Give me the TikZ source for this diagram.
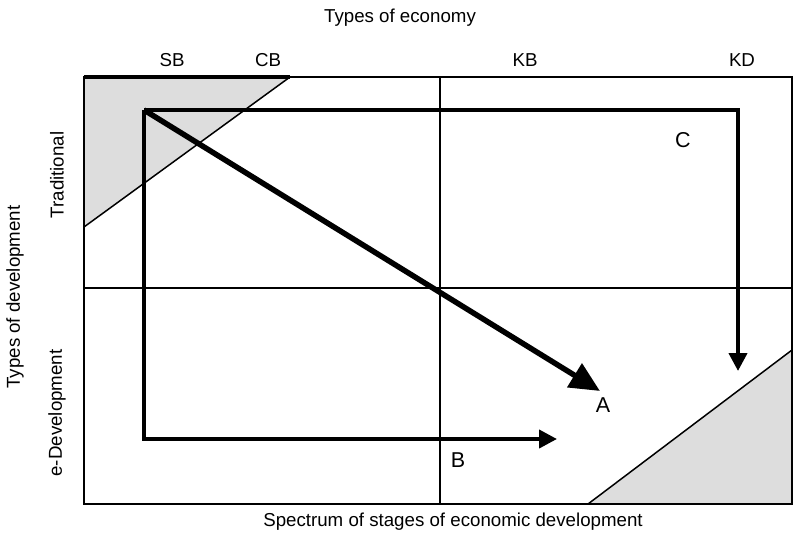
\documentclass[tikz,border=0pt]{standalone}
\usepackage{fontspec}
\setmainfont{Liberation Sans}
\usetikzlibrary{arrows.meta}
\definecolor{trigrey}{HTML}{DDDDDD}
\tikzset{
  thinline/.style={line width=2pt, draw=black},
  pathline/.style={line width=4pt, draw=black},
  lbl/.style={inner sep=0pt, font=\fontsize{18.7}{22}\selectfont},
  biglbl/.style={inner sep=0pt, font=\fontsize{21.5}{25}\selectfont},
  headsmall/.style={-{Triangle[length=18pt,width=18pt]}},
  headbig/.style={-{Triangle[length=30pt,width=27pt]}}
}
\begin{document}
\begin{tikzpicture}[x=1pt,y=-1pt]
\useasboundingbox (0,0) rectangle (797,535);
% shaded triangles
\fill[fill=trigrey] (84,77) -- (290,77) -- (84,227) -- cycle;
\fill[fill=trigrey] (588,504) -- (792,350) -- (792,504) -- cycle;
\draw[line width=1.5pt] (84,227) -- (290,77);
\draw[line width=1.5pt] (588,504) -- (792,350);
% frame
\coordinate (tl) at (84,77);
\coordinate (br) at (792,504);
\draw[thinline] (tl) rectangle (br);
\draw[line width=4pt] (84,77) -- (290,77);
% quadrant lines
\coordinate (mt) at (440,77);
\coordinate (mb) at (440,504);
\coordinate (ml) at (84,288);
\coordinate (mr) at (792,288);
\draw[thinline] (mt) -- (mb);
\draw[thinline] (ml) -- (mr);
% paths
\coordinate (s) at (144,110);
\coordinate (cc) at (738,110);
\coordinate (ce) at (738,371);
\coordinate (bc) at (144,439);
\coordinate (be) at (557,439);
\coordinate (ae) at (600,391);
\draw[pathline, headsmall] (s) -- (cc) -- (ce);
\draw[pathline, headsmall] (s) -- (bc) -- (be);
\draw[line width=5.5pt, headbig] (s) -- (ae);
% labels
\node[lbl] (title) at (400,18) {Types of economy};
\node[lbl] (sb) at (172,60) {SB};
\node[lbl] (cb) at (268,60) {CB};
\node[lbl] (kb) at (525,60) {KB};
\node[lbl] (kd) at (742,60) {KD};
\node[lbl] (bottom) at (453,522) {Spectrum of stages of economic development};
\node[lbl, rotate=90] (trad) at (57,175) {Traditional};
\node[lbl, rotate=90] (edev) at (57,413) {e-Development};
\node[lbl, rotate=90] (tdev) at (15,297) {Types of development};
\node[biglbl] (la) at (603,405) {A};
\node[biglbl] (lb) at (458,460) {B};
\node[biglbl] (lc) at (683,140) {C};
\end{tikzpicture}
\end{document}
